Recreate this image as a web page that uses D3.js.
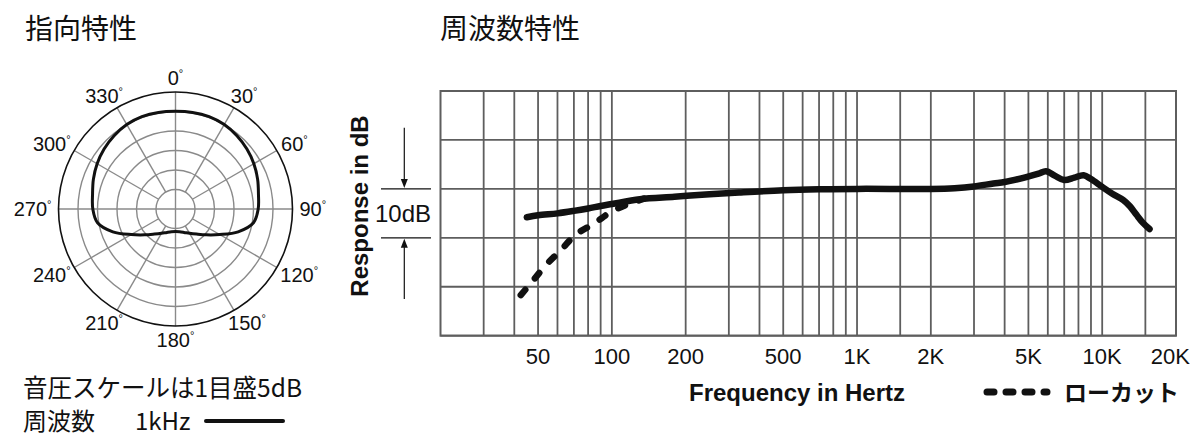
<!DOCTYPE html>
<html><head><meta charset="utf-8">
<script src="https://cdn.jsdelivr.net/npm/d3@7"></script>
<style>html,body{margin:0;padding:0;background:#fff;} svg{display:block}</style>
</head><body>
<svg id="c" width="1200" height="440"></svg>
<script>
// ---------- data ----------
const polarAngles = [0,10,20,30,40,50,60,70,80,90,100,110,120,130,140,150,160,170,180,
                     190,200,210,220,230,240,250,260,270,280,290,300,310,320,330,340,350];
const polarDb = [-4.95,-4.85,-4.8,-5.0,-5.5,-6.1,-6.8,-7.6,-8.4,-8.8,-9.7,-12.9,-16.9,-19.7,-21.6,-22.8,-23.6,-24.05,-24.2,
                 -24.05,-23.6,-22.8,-21.6,-19.7,-16.9,-12.9,-9.7,-8.8,-8.4,-7.6,-6.8,-6.1,-5.5,-5.0,-4.8,-4.85];
const polarTickAngles = [0,30,60,90,120,150,180,210,240,270,300,330];
const polarRingDb = [-25,-20,-15,-10,-5];

const solidHz = [45,50,60,70,80,90,100,130,180,250,330,500,700,1000,2000,2500,3000,3600,4000,4900,5500,5900,6400,7000,7700,8400,9000,10000,11000,12200,13000,13800,14700,15600];
const solidDb = [-5.8,-5.4,-5.0,-4.5,-4.0,-3.5,-3.1,-2.1,-1.6,-1.1,-0.75,-0.3,-0.1,0,0,0.15,0.5,1.1,1.4,2.4,3.1,3.6,2.7,1.8,2.3,2.8,2.0,0.4,-1.0,-2.3,-3.6,-5.3,-7.0,-8.2];
const lowCutHz = [42.5,47.4,54,62,71,85,100,120,135];
const lowCutDb = [-21.7,-18.9,-15.5,-12.5,-9.4,-7.0,-4.6,-2.9,-2.0];

const gridHz = [30,40,50,60,70,80,90,100,200,300,400,500,600,700,800,900,1000,1500,2000,3000,4000,5000,6000,7000,8000,9000,10000,15000];
const gridDb = [-30,-20,-10,0,10,20];
const tickHz = [50,100,200,500,1000,2000,5000,10000,20000];
const tickLabels = ["50","100","200","500","1K","2K","5K","10K","20K"];

// ---------- setup ----------
const svg = d3.select("#c");
const SANS = "'Liberation Sans', Arial, Helvetica, sans-serif";
const JP = "'Noto Sans CJK JP', 'Noto Sans', sans-serif";

// titles
svg.append("text").attr("x",25).attr("y",39).attr("font-family",JP).attr("font-size",28).attr("fill","#111").text("指向特性");
svg.append("text").attr("x",440).attr("y",39).attr("font-family",JP).attr("font-size",28).attr("fill","#111").text("周波数特性");

// ---------- polar ----------
const cx = 175.5, cy = 209, R = 117;
const r = d3.scaleLinear().domain([-30,0]).range([0,R]);
const pg = svg.append("g").attr("transform",`translate(${cx},${cy})`);
pg.selectAll("circle.ring").data(polarRingDb).join("circle").attr("class","ring")
  .attr("r",d=>r(d)).attr("fill","none").attr("stroke","#8a8a8a").attr("stroke-width",1.4);
const rad = a => a*Math.PI/180;
pg.selectAll("line.spoke").data(polarTickAngles).join("line").attr("class","spoke")
  .attr("x1",a=>Math.sin(rad(a))*(a%90===0?0:r(-25))).attr("y1",a=>-Math.cos(rad(a))*(a%90===0?0:r(-25)))
  .attr("x2",a=>Math.sin(rad(a))*r(0)).attr("y2",a=>-Math.cos(rad(a))*r(0))
  .attr("stroke","#8a8a8a").attr("stroke-width",1.4);
pg.append("circle").attr("r",r(0)).attr("fill","none").attr("stroke","#111").attr("stroke-width",1.6);

const polarData = polarAngles.map((a,i)=>({a, db:polarDb[i]}));
const radial = d3.lineRadial().angle(d=>rad(d.a)).radius(d=>r(d.db)).curve(d3.curveCatmullRomClosed.alpha(0.5));
pg.append("path").attr("d",radial(polarData)).attr("fill","none").attr("stroke","#111").attr("stroke-width",3);

const LFS = 20;
polarTickAngles.forEach(a=>{
  const t = pg.append("text").attr("font-family",SANS).attr("font-size",LFS).attr("fill","#111").attr("text-anchor","middle");
  t.append("tspan").text(String(a));
  t.append("tspan").attr("font-size",11).attr("dy",-8).text("°");
  const w = t.node().getComputedTextLength();
  const s = Math.sin(rad(a)), c = Math.cos(rad(a));
  const lx = 124 * s + s*w/2;
  const ly = -124*c - c*7;
  t.attr("x",lx).attr("y",ly + 0.36*LFS);
});

// bottom-left notes
svg.append("text").attr("x",23).attr("y",397).attr("font-family",JP).attr("font-size",24.5).attr("fill","#111").text("音圧スケールは1目盛5dB");
svg.append("text").attr("x",23).attr("y",430).attr("font-family",JP).attr("font-size",24).attr("fill","#111").text("周波数");
svg.append("text").attr("x",135).attr("y",430).attr("font-family",JP).attr("font-size",24).attr("fill","#111").text("1kHz");
svg.append("line").attr("x1",206).attr("x2",283).attr("y1",421).attr("y2",421).attr("stroke","#111").attr("stroke-width",4).attr("stroke-linecap","round");

// ---------- frequency response ----------
const x = d3.scaleLog().domain([20,20000]).range([440.5,1176]);
const y = d3.scaleLinear().domain([-30,20]).range([335.7,91]);
const fg = svg.append("g");
const GC = "#5e5e5e", GW = 1.8;
fg.selectAll("line.vg").data(gridHz).join("line").attr("class","vg")
  .attr("x1",d=>x(d)).attr("x2",d=>x(d)).attr("y1",y(-30)).attr("y2",y(20)).attr("stroke",GC).attr("stroke-width",GW);
fg.selectAll("line.hg").data(gridDb).join("line").attr("class","hg")
  .attr("x1",x(20)).attr("x2",x(20000)).attr("y1",d=>y(d)).attr("y2",d=>y(d)).attr("stroke",GC).attr("stroke-width",GW);
fg.append("rect").attr("x",x(20)).attr("y",y(20)).attr("width",x(20000)-x(20)).attr("height",y(-30)-y(20))
  .attr("fill","none").attr("stroke",GC).attr("stroke-width",2);

// tick labels
fg.selectAll("text.tick").data(tickHz).join("text").attr("class","tick")
  .attr("x",(d,i)=> i===tickHz.length-1 ? x(d)+14 : x(d))
  .attr("y",364).attr("text-anchor",(d,i)=> i===tickHz.length-1 ? "end" : "middle")
  .attr("font-family",SANS).attr("font-size",22).attr("fill","#111")
  .text((d,i)=>tickLabels[i]);

// curves
const line = d3.line().x(d=>x(d.f)).y(d=>y(d.db)).curve(d3.curveCatmullRom.alpha(0.5));
const lowData = lowCutHz.map((f,i)=>({f, db:lowCutDb[i]}));
const solidData = solidHz.map((f,i)=>({f, db:solidDb[i]}));
fg.append("path").attr("d",line(lowData)).attr("fill","none").attr("stroke","#111").attr("stroke-width",6.5)
  .attr("stroke-linecap","round").attr("stroke-dasharray","7,15");
fg.append("path").attr("d",line(solidData)).attr("fill","none").attr("stroke","#111").attr("stroke-width",6.5)
  .attr("stroke-linecap","round").attr("stroke-linejoin","round");

// y-axis annotation
svg.append("text").attr("transform",`translate(368,206) rotate(-90)`).attr("text-anchor","middle")
  .attr("font-family",SANS).attr("font-weight","bold").attr("font-size",24).attr("fill","#111").text("Response in dB");
const ax = 404.3;
[0,-10].forEach(v=>{
  svg.append("line").attr("x1",381).attr("x2",431).attr("y1",y(v)).attr("y2",y(v)).attr("stroke","#111").attr("stroke-width",1.2);
});
svg.append("line").attr("x1",ax).attr("x2",ax).attr("y1",y(12.5)).attr("y2",y(0)-8).attr("stroke","#111").attr("stroke-width",1.2);
svg.append("path").attr("d",`M${ax-3.5},${y(0)-10} L${ax+3.5},${y(0)-10} L${ax},${y(0)-1} Z`).attr("fill","#111");
svg.append("line").attr("x1",ax).attr("x2",ax).attr("y1",y(-22.5)).attr("y2",y(-10)+8).attr("stroke","#111").attr("stroke-width",1.2);
svg.append("path").attr("d",`M${ax-3.5},${y(-10)+10} L${ax+3.5},${y(-10)+10} L${ax},${y(-10)+1} Z`).attr("fill","#111");
svg.append("text").attr("x",403).attr("y",(y(0)+y(-10))/2+8.6).attr("text-anchor","middle")
  .attr("font-family",SANS).attr("font-size",24).attr("fill","#111").text("10dB");

// x-axis title & legend
svg.append("text").attr("x",797).attr("y",401).attr("text-anchor","middle")
  .attr("font-family",SANS).attr("font-weight","bold").attr("font-size",24).attr("fill","#111").text("Frequency in Hertz");
svg.append("line").attr("x1",987).attr("x2",1047).attr("y1",392).attr("y2",392).attr("stroke","#111").attr("stroke-width",7)
  .attr("stroke-linecap","round").attr("stroke-dasharray","7,12");
svg.append("text").attr("x",1064).attr("y",401).attr("font-family",JP).attr("font-weight","bold").attr("font-size",23).attr("fill","#111").text("ローカット");
</script>
</body></html>
